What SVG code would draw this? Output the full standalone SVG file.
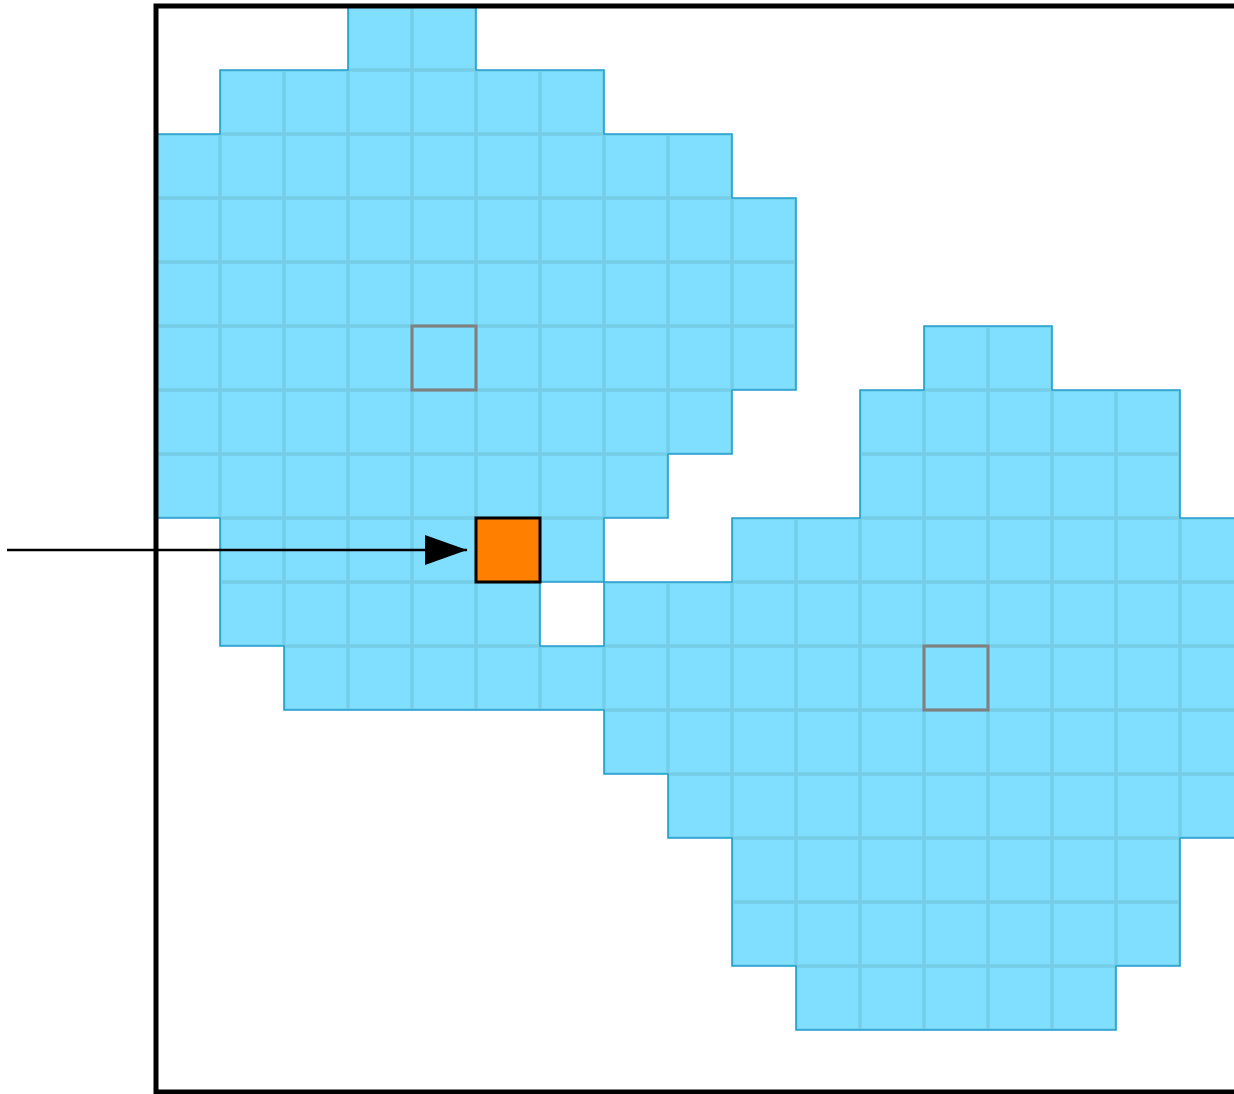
<svg xmlns="http://www.w3.org/2000/svg" width="1234" height="1094" viewBox="0 0 1234 1094">
<defs>
<style>
.outline{fill:none;stroke:#1c9fcf;stroke-width:1.6;stroke-linejoin:miter}
.marker{fill:none;stroke:#808080;stroke-width:3}
.border{fill:none;stroke:#000;stroke-width:5}
.conn{stroke:#000;stroke-width:2.5;fill:none}
</style>
<marker id="arrow" markerWidth="42" markerHeight="30" refX="42" refY="15" orient="auto" markerUnits="userSpaceOnUse" viewBox="0 0 42 30">
<path d="M0,0 L42,15 L0,30 Z" fill="#000"/>
</marker>
<pattern id="grid" x="156" y="6" width="64" height="64" patternUnits="userSpaceOnUse">
<rect x="0" y="0" width="64" height="64" fill="#80dfff"/>
<path d="M0,0 H64 M0,0 V64 M0,64 H64 M64,0 V64" stroke="#76cde6" stroke-width="3.4" fill="none"/>
</pattern>
</defs>
<rect width="1234" height="1094" fill="#fff"/>
<g id="region">
<path d="M348,6 H476 V70 H604 V134 H732 V198 H796 V390 H732 V454 H668 V518 H604 V582 H732 V518 H860 V390 H924 V326 H1052 V390 H1180 V518 H1244 V838 H1180 V966 H1116 V1030 H796 V966 H732 V838 H668 V774 H604 V710 H284 V646 H220 V518 H156 V134 H220 V70 H348 Z M540,582 V646 H604 V582 Z" fill="url(#grid)" fill-rule="evenodd"/>
<path class="outline" d="M348,6 H476 V70 H604 V134 H732 V198 H796 V390 H732 V454 H668 V518 H604 V582 H732 V518 H860 V390 H924 V326 H1052 V390 H1180 V518 H1244 V838 H1180 V966 H1116 V1030 H796 V966 H732 V838 H668 V774 H604 V710 H284 V646 H220 V518 H156 V134 H220 V70 H348 Z M540,582 V646 H604 V582 Z"/>
</g>
<g id="center1"><rect class="marker" x="412" y="326" width="64" height="64"/></g>
<g id="center2"><rect class="marker" x="924" y="646" width="64" height="64"/></g>
<g id="frame"><path class="border" d="M1240,6 H156 V1092 H1240"/></g>
<g id="target"><rect x="476" y="518" width="64" height="64" fill="#ff8000" stroke="#000" stroke-width="3"/></g>
<g id="connectors"><line class="conn" x1="7" y1="550" x2="467" y2="550" marker-end="url(#arrow)"/></g>
</svg>
